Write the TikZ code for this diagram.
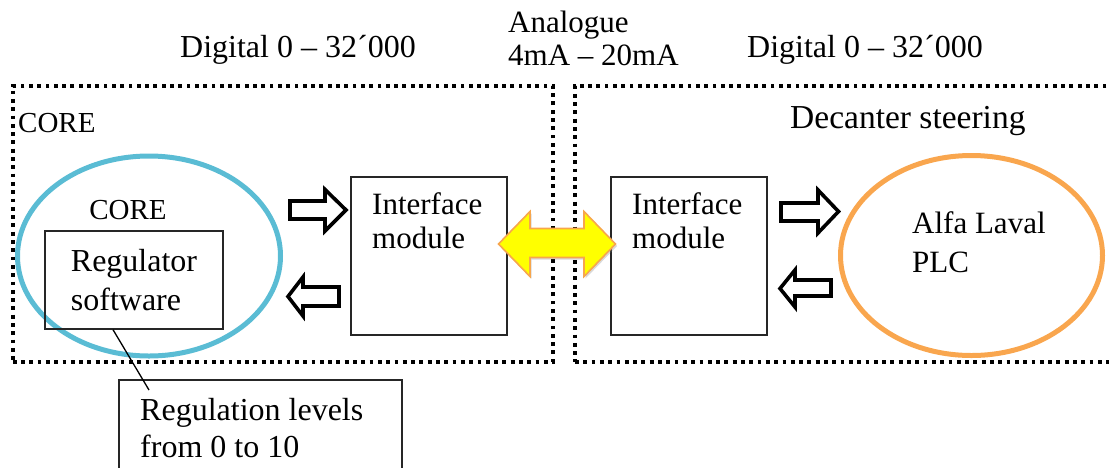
\documentclass[tikz,border=0pt]{standalone}
\usepackage{fontspec}
\setmainfont{Liberation Serif}
\usetikzlibrary{shapes.geometric,shadows}
\definecolor{coreblue}{HTML}{5ABCD4}
\definecolor{plcorange}{HTML}{F9A64E}
\definecolor{arrowyellow}{HTML}{FFFF00}
\definecolor{arroworange}{HTML}{F7A64C}
\begin{document}
\begin{tikzpicture}[x=1pt,y=-1pt,
  txt/.style={font=\fontsize{32}{39}\selectfont, inner sep=0pt, anchor=base west, align=left},
  dotbox/.style={draw, rectangle, inner sep=0pt, line width=3.8pt, dash pattern=on 3.8pt off 4.5pt},
  plainbox/.style={draw=black!85, rectangle, inner sep=0pt, line width=1.3pt},
  blockarrow/.style={draw=black, fill=white, line width=3.6pt, line join=miter},
  analogarrow/.style={draw=arroworange, fill=arrowyellow, line width=1.6pt, line join=miter,
    drop shadow={shadow xshift=1.5pt, shadow yshift=-2pt, opacity=0.3}},
  ring/.style={ellipse, line width=5pt, inner sep=0pt, minimum width=263pt, minimum height=200pt}
]
\useasboundingbox (0,0) rectangle (1109,467);

% dotted frames
\node[dotbox, minimum width=540pt, minimum height=276.3pt] (coreframe) at (282.7,223.85) {};
\node[dotbox, minimum width=555pt, minimum height=276.3pt] (decframe) at (852.5,223.85) {};

% ellipses
\node[ring, draw=coreblue] (core) at (149,256) {};
\node[ring, draw=plcorange, minimum width=262pt] (plc) at (971.5,255.5) {};

% boxes
\node[plainbox, minimum width=178pt, minimum height=98pt, align=left,
      font=\fontsize{32}{39}\selectfont] (reg) at (134,280) {Regulator\\software};
\node[plainbox, minimum width=156pt, minimum height=158pt] (ifl) at (429,256) {};
\node[plainbox, minimum width=156pt, minimum height=158pt] (ifr) at (689,256) {};
\node[plainbox, minimum width=283pt, minimum height=100pt] (lev) at (260.5,430) {};

% hollow block arrows
\draw[blockarrow] (290,201) -- (325,201) -- (325,189.5) -- (346,210) -- (325,231) -- (325,219) -- (290,219) -- cycle;
\draw[blockarrow] (339,287) -- (303,287) -- (303,277) -- (288,296.5) -- (303,316) -- (303,306) -- (339,306) -- cycle;
\draw[blockarrow] (781,203) -- (818,203) -- (818,190) -- (838.5,211.5) -- (818,233) -- (818,221) -- (781,221) -- cycle;
\draw[blockarrow] (831,280) -- (795,280) -- (795,270) -- (780,288.5) -- (795,307) -- (795,296) -- (831,296) -- cycle;

% analogue double arrow
\draw[analogarrow] (498.5,244) -- (530,211.5) -- (530,228.5) -- (584,228.5) -- (584,211.5) -- (615.5,244)
  -- (584,276.5) -- (584,257.5) -- (530,257.5) -- (530,276.5) -- cycle;

% connector
\coordinate (levpt) at (149,390);
\draw[line width=1.3pt] ([xshift=-21pt]reg.south) -- (levpt);

% texts
\node[txt] (dig1) at (180,57) {Digital 0 – 32´000};
\node[txt] (dig2) at (747,57) {Digital 0 – 32´000};
\node[txt, font=\fontsize{31}{33}\selectfont] (ana) at (508,65) {Analogue\\4mA – 20mA};
\node[txt, font=\fontsize{29}{39}\selectfont] (corelbl) at (18,132) {CORE};
\node[txt, font=\fontsize{33.5}{39}\selectfont] (declbl) at (790,128) {Decanter steering};
\node[txt, font=\fontsize{29}{39}\selectfont, anchor=base] (coreinner) at (128,219) {CORE};
\node[txt, font=\fontsize{31}{34}\selectfont] (ifltxt) at (372,248) {Interface\\module};
\node[txt, font=\fontsize{31}{34}\selectfont] (ifrtxt) at (632,248) {Interface\\module};
\node[txt, font=\fontsize{31}{39}\selectfont] (plctxt) at (912,272) {Alfa Laval\\PLC};
\node[txt, font=\fontsize{32}{37}\selectfont] (levtxt) at (140,457) {Regulation levels\\from 0 to 10};
\end{tikzpicture}
\end{document}
